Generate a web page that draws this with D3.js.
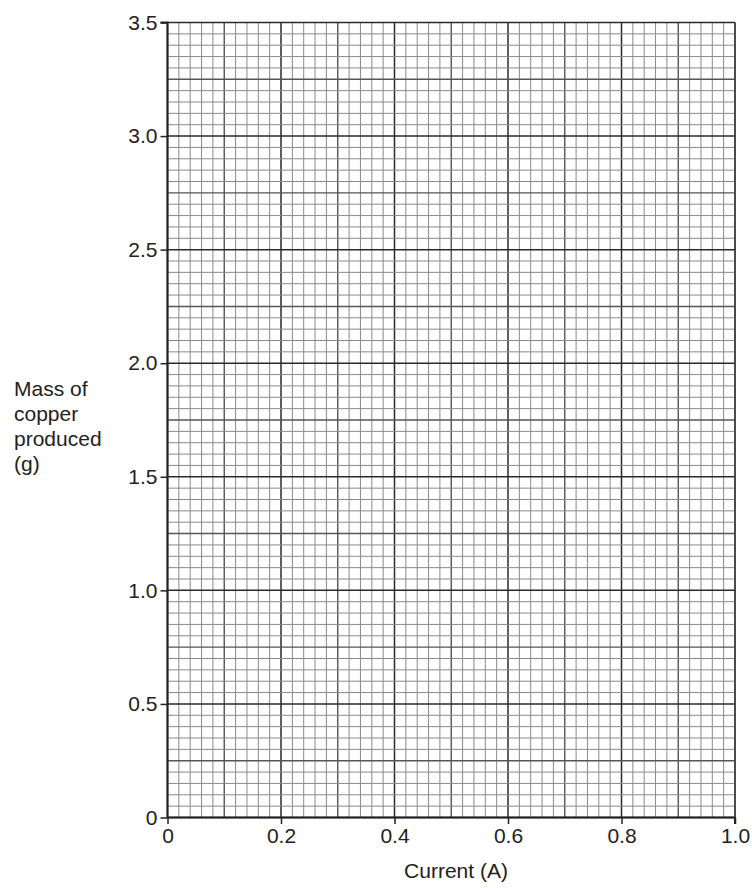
<!DOCTYPE html>
<html>
<head>
<meta charset="utf-8">
<script src="https://cdn.jsdelivr.net/npm/d3@7"></script>
<style>
  body { margin: 0; background: #fff; }
  text { font-family: "Liberation Sans", Arial, sans-serif; }
</style>
</head>
<body>
<div id="chart"></div>
<script>
// axis ranges and labelled ticks
const xDomain = [0, 1.0];
const yDomain = [0, 3.5];
const xTicks = [0, 0.2, 0.4, 0.6, 0.8, 1.0];
const xTickLabels = ["0", "0.2", "0.4", "0.6", "0.8", "1.0"];
const yTicks = [0, 0.5, 1.0, 1.5, 2.0, 2.5, 3.0, 3.5];
const yTickLabels = ["0", "0.5", "1.0", "1.5", "2.0", "2.5", "3.0", "3.5"];
const xStepFine = 0.02, xStepMid = 0.1, xStepMajor = 0.2;
const yStepFine = 0.05, yStepMid = 0.25, yStepMajor = 0.5;
const yLabelLines = ["Mass of", "copper", "produced", "(g)"];
const xLabel = "Current (A)";

const width = 752, height = 888;
const margin = { top: 22.5, right: 17, bottom: 70.5, left: 167.5 };
const fontSize = "21px";

const svg = d3.select("#chart").append("svg").attr("width", width).attr("height", height);

const xScale = d3.scaleLinear().domain(xDomain).range([margin.left, width - margin.right]);
const yScale = d3.scaleLinear().domain(yDomain).range([height - margin.bottom, margin.top]);

const nx = Math.round((xDomain[1] - xDomain[0]) / xStepFine);
const ny = Math.round((yDomain[1] - yDomain[0]) / yStepFine);
const xs = d3.range(nx + 1).map(i => xDomain[0] + i * xStepFine);
const ys = d3.range(ny + 1).map(i => yDomain[0] + i * yStepFine);

const level = (v, mid, major) => {
  if (Math.abs(v / major - Math.round(v / major)) < 1e-6) return 2;
  if (Math.abs(v / mid - Math.round(v / mid)) < 1e-6) return 1;
  return 0;
};
const strokeOf = l => ["#8a8a8a", "#555", "#2a2a2a"][l];
const widthOf = l => [1, 1.4, 1.5][l];
const lx = d => level(d, xStepMid, xStepMajor);
const ly = d => level(d, yStepMid, yStepMajor);

// grid (fine lines first so the darker ones sit on top)
const grid = svg.append("g");
grid.selectAll("line.v")
  .data(xs.slice().sort((a, b) => lx(a) - lx(b)))
  .enter().append("line")
  .attr("x1", d => xScale(d)).attr("x2", d => xScale(d))
  .attr("y1", yScale(yDomain[0])).attr("y2", yScale(yDomain[1]))
  .attr("stroke", d => strokeOf(lx(d)))
  .attr("stroke-width", d => widthOf(lx(d)));

grid.selectAll("line.h")
  .data(ys.slice().sort((a, b) => ly(a) - ly(b)))
  .enter().append("line")
  .attr("y1", d => yScale(d)).attr("y2", d => yScale(d))
  .attr("x1", xScale(xDomain[0])).attr("x2", xScale(xDomain[1]))
  .attr("stroke", d => strokeOf(ly(d)))
  .attr("stroke-width", d => widthOf(ly(d)));

// axes
const axisx = d3.axisBottom(xScale).tickValues(xTicks)
  .tickFormat((d, i) => xTickLabels[i]).tickSize(6.5).tickPadding(4);
const axisy = d3.axisLeft(yScale).tickValues(yTicks)
  .tickFormat((d, i) => yTickLabels[i]).tickSize(7).tickPadding(3);

const gx = svg.append("g")
  .attr("transform", "translate(0," + yScale(yDomain[0]) + ")")
  .call(axisx);
const gy = svg.append("g")
  .attr("transform", "translate(" + xScale(xDomain[0]) + ",0)")
  .call(axisy);

[gx, gy].forEach(g => {
  g.attr("font-size", null).attr("font-family", null);
  g.select(".domain").attr("stroke", "#222").attr("stroke-width", 2);
  g.selectAll(".tick line").attr("stroke", "#222").attr("stroke-width", 1.5);
  g.selectAll(".tick text").attr("fill", "#222").style("font-size", fontSize);
});
gx.select(".domain").attr("d", "M" + xScale(0) + ",0H" + xScale(1) + "V6.5");
gy.select(".domain").attr("d", "M-7," + yScale(3.5) + "H0V" + yScale(0));

// right border
svg.append("line")
  .attr("x1", xScale(xDomain[1])).attr("x2", xScale(xDomain[1]))
  .attr("y1", yScale(yDomain[0])).attr("y2", yScale(yDomain[1]))
  .attr("stroke", "#444").attr("stroke-width", 1.5);

// axis titles
svg.append("text")
  .attr("x", 456)
  .attr("y", 878)
  .attr("text-anchor", "middle")
  .style("font-size", fontSize)
  .attr("fill", "#222")
  .text(xLabel);

svg.append("text")
  .attr("y", 396)
  .style("font-size", fontSize)
  .attr("fill", "#222")
  .selectAll("tspan")
  .data(yLabelLines)
  .enter().append("tspan")
  .attr("x", 14)
  .attr("dy", (d, i) => i === 0 ? 0 : 25)
  .text(d => d);
</script>
</body>
</html>
